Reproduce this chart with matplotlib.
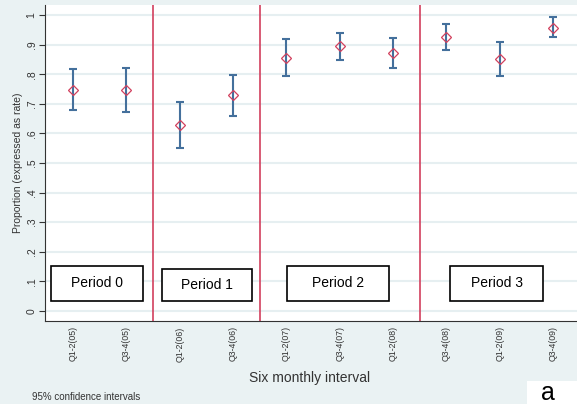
"""
Proportion by six monthly interval with 95% CIs, split into periods.
"""

import numpy as np
import matplotlib
matplotlib.use("Agg")
import matplotlib.pyplot as plt
from matplotlib.patches import Rectangle

# ===== data =====
intervals = ["Q1-2(05)", "Q3-4(05)", "Q1-2(06)", "Q3-4(06)", "Q1-2(07)",
             "Q3-4(07)", "Q1-2(08)", "Q3-4(08)", "Q1-2(09)", "Q3-4(09)"]
estimate = [0.747, 0.747, 0.628, 0.730, 0.856, 0.895, 0.871, 0.925, 0.852, 0.957]
ci_low = [0.679, 0.671, 0.552, 0.660, 0.794, 0.848, 0.822, 0.881, 0.794, 0.925]
ci_high = [0.817, 0.820, 0.707, 0.797, 0.918, 0.940, 0.922, 0.969, 0.910, 0.994]

# period boundaries (between intervals) and label boxes
period_breaks = [1.5, 3.5, 6.5]
period_labels = ["Period 0", "Period 1", "Period 2", "Period 3"]
period_box_x = [(-0.41, 1.31), (1.67, 3.36), (4.01, 5.93), (7.07, 8.82)]
period_box_y = [(0.034, 0.152), (0.034, 0.142), (0.034, 0.152), (0.034, 0.152)]

BG = "#EAF2F3"
GRID = "#E6EFF1"
BLUE = "#44709C"
RED = "#D2405E"

plt.rcParams["font.family"] = ["Liberation Sans", "DejaVu Sans"]


def main():
    fig = plt.figure(figsize=(5.77, 4.04), dpi=100, facecolor=BG)
    ax = fig.add_axes([0.078, 0.206, 0.922, 0.782])
    ax.set_facecolor("white")

    x = np.arange(len(intervals))
    est = np.array(estimate)
    lo = np.array(ci_low)
    hi = np.array(ci_high)

    # grid
    yt = np.round(np.arange(0, 1.01, 0.1), 1)
    for y in yt:
        ax.axhline(y, color=GRID, lw=1.5, zorder=0)

    # period dividers
    for b in period_breaks:
        ax.axvline(b, color=RED, lw=1.2, zorder=1)

    # CIs + point estimates
    ax.errorbar(x, est, yerr=[est - lo, hi - est], fmt="none",
                ecolor=BLUE, elinewidth=1.5, capsize=3, capthick=1.5, zorder=3)
    ax.plot(x, est, linestyle="none", marker="D", markersize=5.5,
            markerfacecolor="none", markeredgecolor=RED, markeredgewidth=0.9,
            zorder=4)

    # period boxes
    for lab, (x0, x1), (y0, y1) in zip(period_labels, period_box_x, period_box_y):
        ax.add_patch(Rectangle((x0, y0), x1 - x0, y1 - y0, facecolor="white",
                               edgecolor="black", lw=1.2, zorder=5))
        ax.text((x0 + x1) / 2, (y0 + y1) / 2, lab, ha="center", va="center",
                fontsize=10, zorder=6)

    ax.set_xlim(-0.525, 9.45)
    ax.set_ylim(-0.033, 1.034)

    ax.set_yticks(yt)
    ax.set_yticklabels(["0"] + [f".{i}" for i in range(1, 10)] + ["1"],
                       rotation=90, va="center", fontsize=7.5, color="#333333")
    ax.set_xticks(x)
    ax.set_xticklabels(intervals, rotation=90, fontsize=6.3, color="#333333")
    ax.tick_params(axis="y", length=4, width=0.8, colors="#333333", pad=2)
    ax.tick_params(axis="x", length=0, pad=4)

    for s in ["top", "right"]:
        ax.spines[s].set_visible(False)
    ax.spines["left"].set_color("#333333")
    ax.spines["bottom"].set_color("#333333")

    ax.set_ylabel("Proportion (expressed as rate)", fontsize=7.5, color="#333333",
                  labelpad=3)

    fig.text(0.537, 0.064, "Six monthly interval", ha="center", va="center",
             fontsize=10, color="#333333")
    fig.text(0.056, 0.018, "95% confidence intervals", ha="left", va="center",
             fontsize=7, color="#333333")

    # panel letter
    fig.patches.append(Rectangle((527 / 577, 0), 50 / 577, 23 / 404,
                                 transform=fig.transFigure, facecolor="white",
                                 edgecolor="none"))
    fig.text(0.95, 0.028, "a", ha="center", va="center", fontsize=18)

    fig.savefig("out.png", dpi=100, facecolor=BG)
    plt.close(fig)


if __name__ == "__main__":
    main()
